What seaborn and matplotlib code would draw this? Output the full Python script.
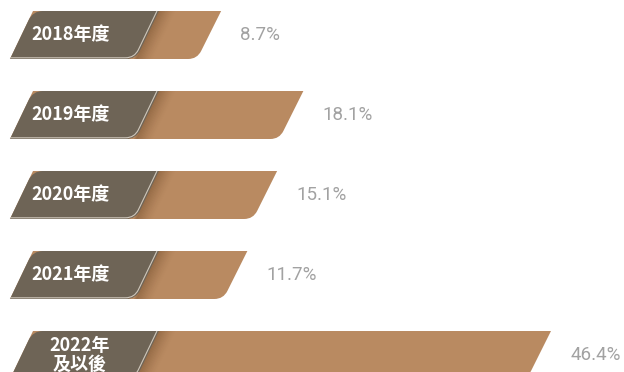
import numpy as np
import pandas as pd
import matplotlib
matplotlib.use("Agg")
import matplotlib.pyplot as plt
from matplotlib.path import Path
from matplotlib.patches import PathPatch, Polygon
import seaborn as sns

# ---- data -------------------------------------------------------------
periods = ["2018年度", "2019年度", "2020年度", "2021年度", "2022年\n及以後"]
shares = [8.7, 18.1, 15.1, 11.7, 46.4]
share_labels = ["8.7%", "18.1%", "15.1%", "11.7%", "46.4%"]

# ---- style ------------------------------------------------------------
BAR_BROWN = "#b98a61"
SHADE_BROWN = "#7d5634"
TAG_DARK = "#6e6456"
TAG_EDGE = "#cfc7bb"
VALUE_GREY = "#a2a2a2"

sns.set_theme(style="white")
plt.rcParams["font.family"] = ["Noto Sans CJK TC", "DejaVu Sans"]

fig = plt.figure(figsize=(6.24, 3.72), dpi=100)
ax = fig.add_axes([0, 0, 1, 1])

df = pd.DataFrame({"period": periods, "share": shares})
sns.barplot(data=df, x="share", y="period", orient="h", width=0.6,
            color=BAR_BROWN, ax=ax)
ax.set_xlim(-16.571, 54.743)
ax.set_ylim(4.2125, -0.4375)
ax.axis("off")

# geometry of the slanted tag on the left (data units along x)
TAG_LEFT = -12.8
TAG_RIGHT = 1.6
TAG_TEXT_X = -4.0
SLANT_PX = 23.0
BAR_SLANT_PX = 24.0

to_px = ax.transData.transform
to_data = ax.transData.inverted().transform


def rounded(corners, radii, closed=True):
    """Polygon through pixel-space corners with optional rounded corners."""
    verts, codes = [], []
    n = len(corners)
    for i, (p, r) in enumerate(zip(corners, radii)):
        p = np.asarray(p, float)
        if r <= 0 or (not closed and (i == 0 or i == n - 1)):
            verts.append(p)
            codes.append(Path.LINETO)
            continue
        a = np.asarray(corners[i - 1], float)
        b = np.asarray(corners[(i + 1) % n], float)
        ua = (a - p) / np.linalg.norm(a - p)
        ub = (b - p) / np.linalg.norm(b - p)
        verts += [p + r * ua, p, p + r * ub]
        codes += [Path.LINETO, Path.CURVE3, Path.CURVE3]
    codes[0] = Path.MOVETO
    if closed:
        verts.append(verts[0])
        codes.append(Path.CLOSEPOLY)
    return Path(to_data(np.array(verts)), codes)


bars = list(ax.patches)
for bar, label, value_text in zip(bars, periods, share_labels):
    value = bar.get_width()
    y_top = bar.get_y()
    y_bot = bar.get_y() + bar.get_height()
    y_mid = y_top + bar.get_height() / 2
    bar.remove()

    # brown value bar
    tl = to_px((TAG_LEFT, y_top))
    bl = to_px((TAG_LEFT, y_bot)) - (SLANT_PX, 0)
    tr = to_px((value, y_top))
    br = to_px((value, y_bot)) - (BAR_SLANT_PX, 0)
    body = PathPatch(rounded([tl, tr, br, bl], [0, 0, 9, 0]),
                     facecolor=BAR_BROWN, edgecolor="none", zorder=1)
    ax.add_patch(body)

    # soft shade next to the tag
    t_right = to_px((TAG_RIGHT, y_top))
    b_right = to_px((TAG_RIGHT, y_bot)) - (SLANT_PX, 0)
    steps = 14
    width = 18.0
    for k in range(steps):
        d0 = width * k / steps
        d1 = width * (k + 1) / steps
        alpha = 0.30 * (1 - (k + 0.5) / steps) ** 1.6
        quad = np.array([t_right + (d0 - 2, 0), t_right + (d1, 0),
                         b_right + (d1, 0), b_right + (d0 - 2, 0)])
        strip = Polygon(to_data(quad), closed=True, facecolor=SHADE_BROWN,
                        edgecolor="none", alpha=alpha, zorder=2)
        ax.add_patch(strip)
        strip.set_clip_path(body)

    # dark tag
    t_left = to_px((TAG_LEFT, y_top))
    b_left = to_px((TAG_LEFT, y_bot)) - (SLANT_PX, 0)
    tag = PathPatch(rounded([t_left, t_right, b_right, b_left], [10, 0, 10, 0]),
                    facecolor=TAG_DARK, edgecolor="none", zorder=3)
    ax.add_patch(tag)

    # thin highlight along the right and bottom edges of the tag
    edge = rounded([t_right + (-2, 0), b_right + (-1.5, 1.2), b_left + (0, 1.2)],
                   [0, 9, 0], closed=False)
    ax.add_patch(PathPatch(edge, facecolor="none", edgecolor=TAG_EDGE,
                           lw=0.8, zorder=4))

    ax.text(TAG_TEXT_X, y_mid, label, ha="right", va="center",
            multialignment="center", linespacing=0.95,
            color="white", fontsize=13, fontweight="bold", zorder=5)
    ax.text(value + 2.2, y_mid, value_text, ha="left", va="center",
            color=VALUE_GREY, fontsize=13.5, fontweight="normal",
            family=["Roboto", "DejaVu Sans"], zorder=5)

fig.savefig("out.png", dpi=100)
